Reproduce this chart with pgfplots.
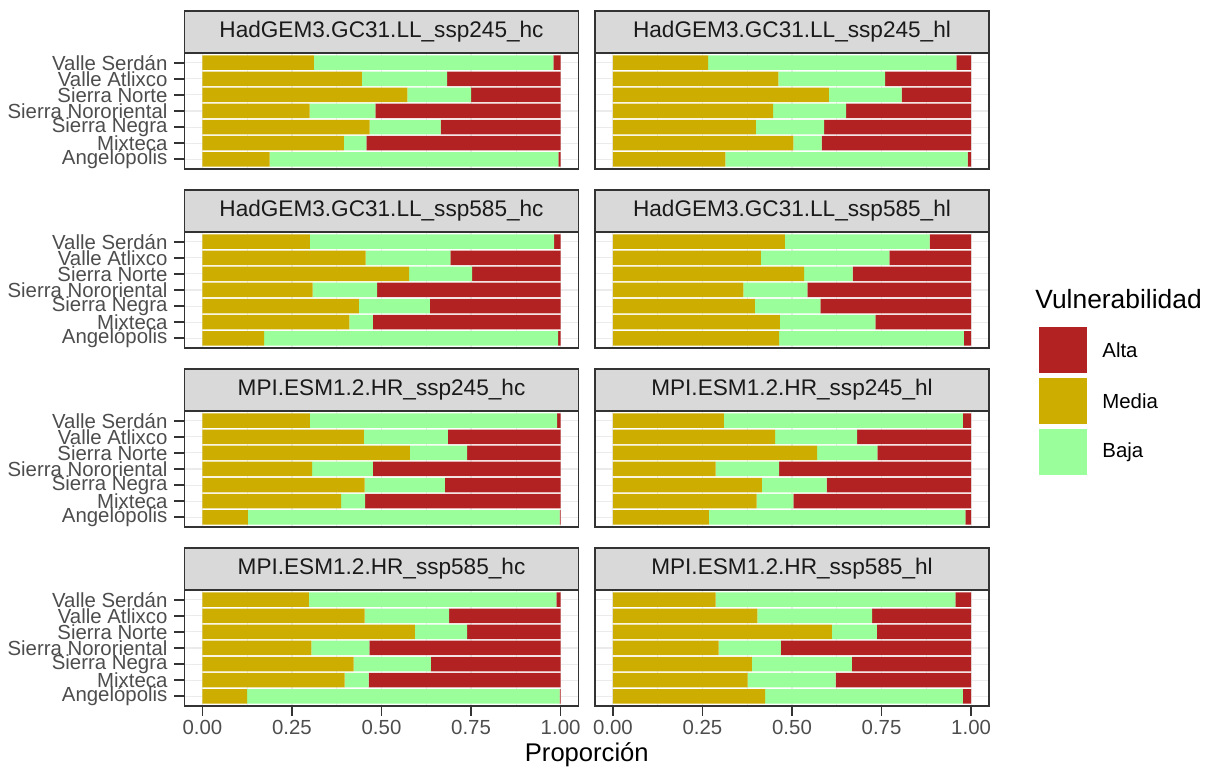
\documentclass[border=0pt]{standalone}
\usepackage{fontspec}
\setmainfont{Liberation Sans}
\usepackage{pgfplots}
\usepackage{pgfplotstable}
\pgfplotsset{compat=1.18}

\definecolor{alta}{HTML}{B22222}
\definecolor{media}{HTML}{CDAD00}
\definecolor{baja}{HTML}{9AFF9A}
\definecolor{grey20}{HTML}{333333}
\definecolor{grey30}{HTML}{4D4D4D}
\definecolor{grey10}{HTML}{1A1A1A}
\definecolor{stripc}{HTML}{D9D9D9}
\definecolor{gridc}{HTML}{EBEBEB}

% columns: y position, Media, Baja, Alta (segment widths)
\pgfplotstableread{
y M B A
7 0.311 0.669 0.020
6 0.445 0.238 0.317
5 0.572 0.178 0.250
4 0.299 0.184 0.517
3 0.467 0.198 0.335
2 0.395 0.063 0.542
1 0.188 0.806 0.006
}\tabA
\pgfplotstableread{
y M B A
7 0.266 0.693 0.041
6 0.462 0.298 0.240
5 0.603 0.203 0.194
4 0.447 0.204 0.349
3 0.399 0.191 0.410
2 0.504 0.079 0.417
1 0.314 0.676 0.010
}\tabB
\pgfplotstableread{
y M B A
7 0.300 0.682 0.018
6 0.456 0.236 0.308
5 0.577 0.176 0.247
4 0.308 0.180 0.512
3 0.437 0.198 0.365
2 0.410 0.066 0.524
1 0.172 0.821 0.007
}\tabC
\pgfplotstableread{
y M B A
7 0.480 0.404 0.116
6 0.413 0.359 0.228
5 0.534 0.135 0.331
4 0.364 0.179 0.457
3 0.396 0.183 0.421
2 0.466 0.267 0.267
1 0.464 0.516 0.020
}\tabD
\pgfplotstableread{
y M B A
7 0.300 0.690 0.010
6 0.451 0.234 0.315
5 0.579 0.160 0.261
4 0.306 0.170 0.524
3 0.453 0.224 0.323
2 0.387 0.067 0.546
1 0.127 0.870 0.003
}\tabE
\pgfplotstableread{
y M B A
7 0.310 0.667 0.023
6 0.453 0.229 0.318
5 0.570 0.168 0.262
4 0.287 0.177 0.536
3 0.416 0.181 0.403
2 0.401 0.103 0.496
1 0.268 0.716 0.016
}\tabF
\pgfplotstableread{
y M B A
7 0.297 0.691 0.012
6 0.453 0.236 0.311
5 0.593 0.146 0.261
4 0.304 0.162 0.534
3 0.422 0.216 0.362
2 0.397 0.067 0.536
1 0.125 0.872 0.003
}\tabG
\pgfplotstableread{
y M B A
7 0.287 0.669 0.044
6 0.403 0.321 0.276
5 0.611 0.126 0.263
4 0.295 0.174 0.531
3 0.388 0.279 0.333
2 0.376 0.246 0.378
1 0.425 0.552 0.023
}\tabH

\pgfplotsset{
  panel/.style={
    scale only axis, width=197pt, height=58pt,
    xmin=-0.05, xmax=1.05, ymin=0.4, ymax=7.6,
    xbar stacked, bar width=0.9,
    xtick={0,0.25,0.5,0.75,1},
    minor xtick={0.125,0.375,0.625,0.875},
    ytick={1,2,3,4,5,6,7},
    xmajorgrids, xminorgrids, ymajorgrids,
    major grid style={draw=gridc, line width=0.55pt},
    minor grid style={draw=gridc, line width=0.3pt},
    axis line style={draw=grey20, line width=0.9pt},
    tick style={draw=grey20, line width=0.9pt},
    tick align=outside, major tick length=5pt, minor tick length=0pt,
    xtick pos=left, ytick pos=left,
    ticklabel style={font=\fontsize{10.2}{10.2}\selectfont, text=grey30},
    xticklabel style={inner ysep=1.9pt},
  },
  leftcol/.style={yticklabels={Angelópolis,Mixteca,Sierra Negra,Sierra Nororiental,Sierra Norte,Valle Atlixco,Valle Serdán}},
  rightcol/.style={yticklabels={}, ytick style={draw=none}},
  bottomrow/.style={xticklabels={0.00,0.25,0.50,0.75,1.00}},
  otherrow/.style={xticklabels={}, xtick style={draw=none}},
}

\newcommand{\panel}[5]{%
\begin{axis}[panel, name=#1, at={(#2,#3)}, anchor=north west, #5]
\addplot[fill=media, draw=none] table[x=M, y=y] {#4};
\addplot[fill=baja, draw=none] table[x=B, y=y] {#4};
\addplot[fill=alta, draw=none] table[x=A, y=y] {#4};
\end{axis}}

\newcommand{\strip}[2]{%
\draw[fill=stripc, draw=grey20, line width=0.9pt] (#1.north west) rectangle ([yshift=21pt]#1.north east);
\node[font=\fontsize{11.3}{11.3}\selectfont, text=grey10] at ([yshift=10.5pt]#1.north) {#2};}

\begin{document}
\begin{tikzpicture}
\useasboundingbox (0,0) rectangle (606pt,387pt);

\panel{pA}{92.25pt}{360.5pt}{\tabA}{leftcol, otherrow}
\panel{pB}{297.5pt}{360.5pt}{\tabB}{rightcol, otherrow}
\panel{pC}{92.25pt}{271pt}{\tabC}{leftcol, otherrow}
\panel{pD}{297.5pt}{271pt}{\tabD}{rightcol, otherrow}
\panel{pE}{92.25pt}{181.5pt}{\tabE}{leftcol, otherrow}
\panel{pF}{297.5pt}{181.5pt}{\tabF}{rightcol, otherrow}
\panel{pG}{92.25pt}{92pt}{\tabG}{leftcol, bottomrow}
\panel{pH}{297.5pt}{92pt}{\tabH}{rightcol, bottomrow}

\strip{pA}{HadGEM3.GC31.LL\_ssp245\_hc}
\strip{pB}{HadGEM3.GC31.LL\_ssp245\_hl}
\strip{pC}{HadGEM3.GC31.LL\_ssp585\_hc}
\strip{pD}{HadGEM3.GC31.LL\_ssp585\_hl}
\strip{pE}{MPI.ESM1.2.HR\_ssp245\_hc}
\strip{pF}{MPI.ESM1.2.HR\_ssp245\_hl}
\strip{pG}{MPI.ESM1.2.HR\_ssp585\_hc}
\strip{pH}{MPI.ESM1.2.HR\_ssp585\_hl}

\node[anchor=base, font=\fontsize{12.8}{12.8}\selectfont] at (293.4pt,6pt) {Proporción};

% legend
\node[anchor=west, inner sep=0pt, font=\fontsize{13.2}{13.2}\selectfont] at (517.5pt,237.5pt) {Vulnerabilidad};
\fill[alta] (519.5pt,200.5pt) rectangle (543.5pt,223.5pt);
\fill[media] (519.5pt,175pt) rectangle (543.5pt,198pt);
\fill[baja] (519.5pt,149.5pt) rectangle (543.5pt,172.5pt);
\node[anchor=west, inner sep=0pt, font=\fontsize{10.2}{10.2}\selectfont] at (551pt,212pt) {Alta};
\node[anchor=west, inner sep=0pt, font=\fontsize{10.2}{10.2}\selectfont] at (551pt,186.5pt) {Media};
\node[anchor=west, inner sep=0pt, font=\fontsize{10.2}{10.2}\selectfont] at (551pt,161pt) {Baja};
\end{tikzpicture}
\end{document}
